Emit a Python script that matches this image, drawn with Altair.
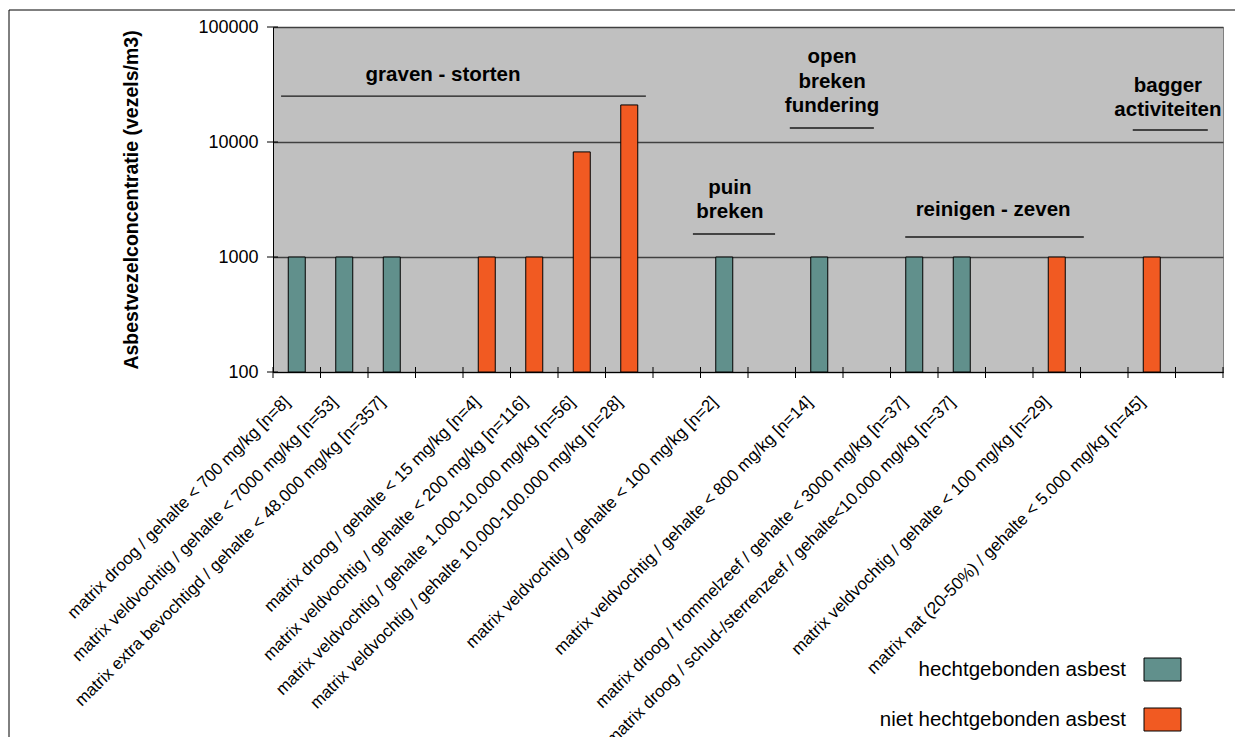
import json
import altair as alt
import pandas as pd

# ---------------- data ----------------
slot_labels = [
    "matrix droog / gehalte < 700 mg/kg [n=8]",
    "matrix veldvochtig / gehalte < 7000 mg/kg [n=53]",
    "matrix extra bevochtigd / gehalte < 48.000 mg/kg [n=357]",
    "",
    "matrix droog / gehalte < 15 mg/kg [n=4]",
    "matrix veldvochtig / gehalte < 200 mg/kg [n=116]",
    "matrix veldvochtig / gehalte 1.000-10.000 mg/kg [n=56]",
    "matrix veldvochtig / gehalte 10.000-100.000 mg/kg [n=28]",
    "",
    "matrix veldvochtig / gehalte < 100 mg/kg [n=2]",
    "",
    "matrix veldvochtig / gehalte < 800 mg/kg [n=14]",
    "",
    "matrix droog / trommelzeef / gehalte < 3000 mg/kg [n=37]",
    "matrix droog / schud-/sterrenzeef / gehalte<10.000 mg/kg [n=37]",
    "",
    "matrix veldvochtig / gehalte < 100 mg/kg [n=29]",
    "",
    "matrix nat (20-50%) / gehalte < 5.000 mg/kg [n=45]",
    "",
]
bar_slots = [0, 1, 2, 4, 5, 6, 7, 9, 11, 13, 14, 16, 18]
bar_values = [1000, 1000, 1000, 1000, 1000, 8200, 21000, 1000, 1000, 1000, 1000, 1000, 1000]
TYPE_A = "hechtgebonden asbest"
TYPE_B = "niet hechtgebonden asbest"
bar_types = [TYPE_A, TYPE_A, TYPE_A, TYPE_B, TYPE_B, TYPE_B, TYPE_B,
             TYPE_A, TYPE_A, TYPE_A, TYPE_A, TYPE_B, TYPE_B]
type_names = [TYPE_A, TYPE_B]
type_colors = ["#61908C", "#F15A22"]

y_ticks = [100, 1000, 10000, 100000]
slot_edges = list(range(21))

group_text_x = [3.58, 9.62, 9.62, 11.77, 11.77, 11.77, 15.16, 18.84, 18.84]
group_text_y = [38300, 3980, 2460, 54800, 33200, 20600, 2560, 30700, 19000]
group_text = ["graven - storten", "puin", "breken", "open", "breken", "fundering",
              "reinigen - zeven", "bagger", "activiteiten"]
group_line_x1 = [0.17, 8.84, 10.88, 13.31, 18.10]
group_line_x2 = [7.85, 10.57, 12.65, 17.07, 19.68]
group_line_y = [25100, 1585, 13240, 1493, 12710]

# ---------------- layout ----------------
W, H = 950, 345
FONT = "Liberation Sans"

xscale = alt.Scale(domain=[0, 20], nice=False, zero=False, padding=0)
yscale = alt.Scale(type="log", domain=[100, 100000], nice=False)

label_expr = json.dumps(slot_labels) + "[floor(datum.value)]"
x_axis = alt.Axis(
    title=None, values=[s + 0.5 for s in bar_slots], labelExpr=label_expr,
    labelAngle=-45, labelAlign="right", labelBaseline="middle",
    labelFontSize=17, labelPadding=27, labelOffset=-10, labelLimit=2000,
    ticks=False, tickSize=0, grid=False,
    labelOverlap=False, labelFlush=False, labelBound=False, domainColor="black")
y_axis = alt.Axis(
    title="Asbestvezelconcentratie (vezels/m3)", values=y_ticks, format="d",
    labelFontSize=18, labelPadding=15, ticks=False, tickSize=0,
    grid=True, gridColor="#404040", gridWidth=1.3, domainColor="black",
    titleFontSize=19.5, titleFontWeight="bold", titleX=-142, titleY=H / 2,
    titleBaseline="middle", titleAngle=-90)

bars_df = pd.DataFrame({"pos": [s + 0.5 for s in bar_slots], "value": bar_values, "type": bar_types})

bars = alt.Chart(bars_df).mark_bar(size=17, stroke="black", strokeWidth=1).encode(
    x=alt.X("pos:Q", scale=xscale, axis=x_axis),
    y=alt.Y("value:Q", scale=yscale, axis=y_axis),
    y2=alt.datum(100),
    color=alt.Color("type:N", scale=alt.Scale(domain=type_names, range=type_colors), legend=None),
)

xticks = alt.Chart(pd.DataFrame({"e": slot_edges})).mark_rule(color="black", strokeWidth=1).encode(
    x=alt.X("e:Q", scale=xscale, axis=x_axis),
    y=alt.value(H - 5), y2=alt.value(H + 6),
)
yticks = alt.Chart(pd.DataFrame({"v": y_ticks})).mark_rule(color="black", strokeWidth=1).encode(
    y=alt.Y("v:Q", scale=yscale, axis=y_axis),
    x=alt.value(-6), x2=alt.value(5),
)

gtext = alt.Chart(pd.DataFrame({"x": group_text_x, "y": group_text_y, "t": group_text})).mark_text(
    font=FONT, fontSize=20.5, fontWeight="bold", color="black", align="center", baseline="middle"
).encode(
    x=alt.X("x:Q", scale=xscale, axis=x_axis),
    y=alt.Y("y:Q", scale=yscale, axis=y_axis),
    text="t:N",
)
glines = alt.Chart(pd.DataFrame({"x1": group_line_x1, "x2": group_line_x2, "y": group_line_y})).mark_rule(
    color="#1a1a1a", strokeWidth=1.3
).encode(
    x=alt.X("x1:Q", scale=xscale, axis=x_axis),
    x2="x2:Q",
    y=alt.Y("y:Q", scale=yscale, axis=y_axis),
)

one = pd.DataFrame({"k": [0]})
legend_layers = []
for i, (name, col) in enumerate(zip(type_names, type_colors)):
    top = 631 + i * 50
    legend_layers.append(
        alt.Chart(one).mark_rect(fill=col, stroke="black", strokeWidth=1).encode(
            x=alt.value(871), x2=alt.value(908), y=alt.value(top), y2=alt.value(top + 23))
    )
    legend_layers.append(
        alt.Chart(one).mark_text(font=FONT, fontSize=20.5, align="right", baseline="middle",
                                 color="black", text=name).encode(
            x=alt.value(853), y=alt.value(top + 12))
    )

frame_top = alt.Chart(one).mark_rule(color="black", strokeWidth=1).encode(
    x=alt.value(-264), x2=alt.value(W + 14), y=alt.value(-17))
frame_left = alt.Chart(one).mark_rule(color="black", strokeWidth=1).encode(
    x=alt.value(-264), y=alt.value(-17), y2=alt.value(720))

chart = alt.layer(
    bars, xticks, yticks, glines, gtext, *legend_layers, frame_top, frame_left
).properties(
    width=W, height=H,
    autosize=alt.AutoSizeParams(type="none"),
    padding={"left": 265, "top": 19, "right": 12, "bottom": 365},
).configure(
    font=FONT,
).configure_view(
    fill="#C0C0C0", stroke="#808080", strokeWidth=1,
).configure_axis(
    labelFont=FONT, titleFont=FONT, labelColor="black", titleColor="black",
)

chart.save("out.html", embed_options={"renderer": "svg", "actions": False})
